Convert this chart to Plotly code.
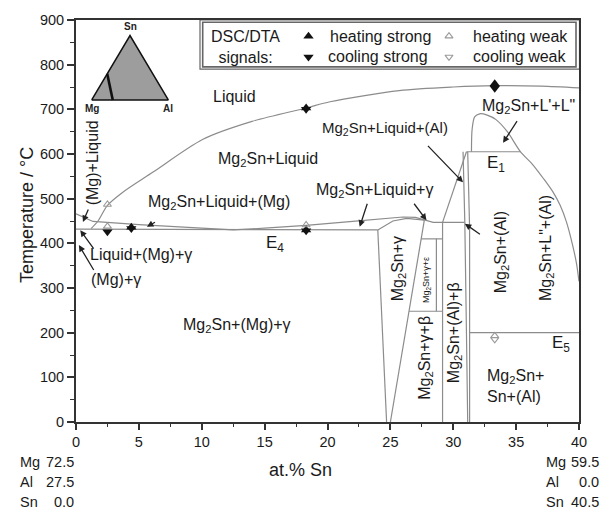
import math
import numpy as np
import plotly.graph_objects as go

# ---------------- phase boundaries (x = at.% Sn, T = °C) ----------------
liquidus_x = [1.2, 1.75, 2.5, 3.7, 6.1, 10.1, 14.0, 18.3, 20.2, 25.7, 30.0, 33.3, 37.0, 40.0]
liquidus_T = [433, 450, 485, 514, 559, 633, 673, 703, 717, 742, 750, 753, 752, 748]

valley_x = [0.0, 1.35, 5.0, 9.0, 12.5, 15.0, 18.3, 22.0, 24.0, 26.0, 27.0, 27.7, 28.4, 30.9]
valley_T = [466, 449, 442, 435, 430, 434, 440, 449, 454, 459, 458, 452, 447, 447]

e4_x = [0.0, 24.0]
e4_T = [432, 430]

gamma_top_x = [24.0, 25.2, 26.3, 27.7]
gamma_top_T = [430, 450, 456, 452]

gamma_left_x = [24.0, 24.7]
gamma_left_T = [430, 0]

gamma_right_x = [25.0, 27.7]
gamma_right_T = [0, 452]

beta_left_x = [29.15, 29.15]
beta_left_T = [0, 447]

eps_upper_T = 410
eps_lower_T = 248
eps_inner_x = 28.66

al_liq_x = [29.15, 31.05]
al_liq_T = [447, 605]

al_solvus_x = [30.78, 30.92, 31.05, 31.15]
al_solvus_T = [605, 447, 200, 0]

sn_side_x = [31.15, 31.3, 31.3]
sn_side_T = [605, 433, 0]

e1_x = [31.05, 35.35]
e1_T = [605, 605]

dome_x = [31.45, 31.5, 31.7, 32.1, 32.7, 33.4, 34.3, 35.35, 36.3, 37.2, 37.95, 38.5, 39.0, 39.5, 39.8, 40.0]
dome_T = [605, 655, 683, 690, 687, 677, 650, 605, 577, 544, 514, 485, 448, 395, 355, 315]

e5_x = [31.3, 40.0]
e5_T = [200, 200]

# ---------------- DSC/DTA signals ----------------
heat_strong_x = [4.4, 18.3, 18.3, 33.3]
heat_strong_T = [436, 703, 430, 757]
cool_strong_x = [2.5, 4.4, 18.3, 18.3, 33.3]
cool_strong_T = [426, 433, 700, 428, 747]
heat_weak_x = [2.5, 2.5, 18.3, 33.3]
heat_weak_T = [487, 438, 441, 193]
cool_weak_x = [33.3]
cool_weak_T = [185]

# ---------------- section end compositions (at.%) ----------------
start_comp = {"Mg": 72.5, "Al": 27.5, "Sn": 0.0}
end_comp = {"Mg": 59.5, "Al": 0.0, "Sn": 40.5}

FONT = "Liberation Sans, Arial, sans-serif"
TXT = "#1a1a1a"
BND = dict(color="#8c8c8c", width=1.2)

# plot-area geometry in pixels (used for paper placement of extras)
W, H = 603, 514
ML, MR, MT, MB = 76, 24, 16, 92
PW, PH = W - ML - MR, H - MT - MB


def px2paper(px, py):
    return (px - ML) / PW, (H - MB - py) / PH


fig = go.Figure()


def boundary(x, T, shape="linear"):
    fig.add_trace(go.Scatter(x=x, y=T, mode="lines",
                             line=dict(color=BND["color"], width=BND["width"], shape=shape,
                                       smoothing=0.8),
                             hoverinfo="skip", showlegend=False))


boundary(liquidus_x, liquidus_T, "spline")
boundary(valley_x, valley_T)
boundary(e4_x, e4_T)
boundary(gamma_top_x, gamma_top_T)
boundary(gamma_left_x, gamma_left_T)
boundary(gamma_right_x, gamma_right_T)
boundary(beta_left_x, beta_left_T)

# the epsilon box sits between the gamma phase edge and the beta line
gx_sorted = np.argsort(gamma_right_T)
x_up = float(np.interp(eps_upper_T, np.array(gamma_right_T)[gx_sorted], np.array(gamma_right_x)[gx_sorted]))
x_lo = float(np.interp(eps_lower_T, np.array(gamma_right_T)[gx_sorted], np.array(gamma_right_x)[gx_sorted]))
boundary([x_up, beta_left_x[0]], [eps_upper_T, eps_upper_T])
boundary([x_lo, beta_left_x[0]], [eps_lower_T, eps_lower_T])
boundary([eps_inner_x, eps_inner_x], [eps_upper_T, eps_lower_T])

boundary(al_liq_x, al_liq_T)
boundary(al_solvus_x, al_solvus_T)
boundary(sn_side_x, sn_side_T)
boundary(e1_x, e1_T)
boundary(dome_x, dome_T, "spline")
boundary(e5_x, e5_T)

# signals
fig.add_trace(go.Scatter(x=heat_strong_x, y=heat_strong_T, mode="markers", name="heating strong",
                         marker=dict(symbol="triangle-up", size=9, color="#111111"), showlegend=False))
fig.add_trace(go.Scatter(x=cool_strong_x, y=cool_strong_T, mode="markers", name="cooling strong",
                         marker=dict(symbol="triangle-down", size=9, color="#111111"), showlegend=False))
fig.add_trace(go.Scatter(x=heat_weak_x, y=heat_weak_T, mode="markers", name="heating weak",
                         marker=dict(symbol="triangle-up-open", size=7, color="#9a9a9a",
                                     line=dict(width=1.1)), showlegend=False))
fig.add_trace(go.Scatter(x=cool_weak_x, y=cool_weak_T, mode="markers", name="cooling weak",
                         marker=dict(symbol="triangle-down-open", size=7, color="#9a9a9a",
                                     line=dict(width=1.1)), showlegend=False))

# ---------------- composition triangle inset ----------------
def tern(c):
    tot = c["Mg"] + c["Al"] + c["Sn"]
    al, sn = c["Al"] / tot, c["Sn"] / tot
    return al + sn / 2.0, sn * math.sqrt(3) / 2.0


corners = [{"Mg": 100, "Al": 0, "Sn": 0}, {"Mg": 0, "Al": 100, "Sn": 0},
           {"Mg": 0, "Al": 0, "Sn": 100}, {"Mg": 100, "Al": 0, "Sn": 0}]
cx, cy = zip(*[tern(c) for c in corners])
fig.add_trace(go.Scatter(x=cx, y=cy, xaxis="x2", yaxis="y2", mode="lines", fill="toself",
                         fillcolor="#9d9d9d", line=dict(color="#111", width=1.5),
                         hoverinfo="skip", showlegend=False))
ix, iy = zip(tern(start_comp), tern(end_comp))
fig.add_trace(go.Scatter(x=ix, y=iy, xaxis="x2", yaxis="y2", mode="lines",
                         line=dict(color="#111", width=2.6), hoverinfo="skip", showlegend=False))

# ---------------- key box markers ----------------
key_up = px2paper(308.5, 32.3)
key_dn = px2paper(308.5, 53.3)
key_upw = px2paper(449, 32.3)
key_dnw = px2paper(449, 53.3)
fig.add_trace(go.Scatter(x=[key_up[0]], y=[key_up[1]], xaxis="x3", yaxis="y3", mode="markers",
                         marker=dict(symbol="triangle-up", size=9, color="#111"), showlegend=False))
fig.add_trace(go.Scatter(x=[key_dn[0]], y=[key_dn[1]], xaxis="x3", yaxis="y3", mode="markers",
                         marker=dict(symbol="triangle-down", size=9, color="#111"), showlegend=False))
fig.add_trace(go.Scatter(x=[key_upw[0]], y=[key_upw[1]], xaxis="x3", yaxis="y3", mode="markers",
                         marker=dict(symbol="triangle-up-open", size=7, color="#9a9a9a",
                                     line=dict(width=1.1)), showlegend=False))
fig.add_trace(go.Scatter(x=[key_dnw[0]], y=[key_dnw[1]], xaxis="x3", yaxis="y3", mode="markers",
                         marker=dict(symbol="triangle-down-open", size=7, color="#9a9a9a",
                                     line=dict(width=1.1)), showlegend=False))

ann = []


def label(x, y, text, size=16, angle=0, **kw):
    d = dict(x=x, y=y, xref="x", yref="y", text=text, showarrow=False, textangle=angle,
             xanchor="center", yanchor="middle",
             font=dict(family=FONT, size=size, color=TXT))
    d.update(kw)
    ann.append(d)


M2 = "Mg<sub>2</sub>Sn"
label(12.6, 729, "Liquid")
label(15.3, 588, M2 + "+Liquid")
label(11.4, 492, M2 + "+Liquid+(Mg)")
label(1.34, 581, "(Mg)+Liquid", angle=-90)
label(5.2, 374, "Liquid+(Mg)+γ")
label(3.2, 319, "(Mg)+γ")
label(12.8, 215, M2 + "+(Mg)+γ")
label(15.8, 399, "E<sub>4</sub>", size=17)
label(23.75, 518, M2 + "+Liquid+γ")
label(24.55, 658, M2 + "+Liquid+(Al)", size=15)
label(35.95, 707, M2 + "+L'+L\"")
label(33.4, 577, "E<sub>1</sub>", size=17)
label(25.6, 344, M2 + "+γ", angle=-90)
label(27.87, 319, M2 + "+γ+ε", size=9, angle=-90)
label(27.73, 143, M2 + "+γ+β", angle=-90)
label(30.1, 200, M2 + "+(Al)+β", angle=-90)
label(33.8, 380, M2 + "+(Al)", angle=-90)
label(37.4, 390, M2 + "+L\"+(Al)", angle=-90)
label(38.6, 174, "E<sub>5</sub>", size=17)
label(32.5, 80, M2 + "+<br>Sn+(Al)", xanchor="left", align="left")

# pointer arrows: (tail x, tail T, head x, head T)
arrows = [
    (1.03, 479, 0.55, 448),
    (6.4, 449, 5.64, 437),
    (1.49, 385, 0.34, 429.5),
    (1.48, 337, 0.23, 396),
    (23.2, 492, 22.56, 437),
    (26.8, 492, 27.87, 451.7),
    (27.87, 621.5, 30.78, 536.6),
    (35.15, 677, 33.96, 625),
    (32.24, 418, 30.92, 444),
]
for tx, tT, hx, hT in arrows:
    ann.append(dict(x=hx, y=hT, ax=tx, ay=tT, xref="x", yref="y", axref="x", ayref="y",
                    text="", showarrow=True, arrowhead=2, arrowsize=1, arrowwidth=1.3,
                    arrowcolor="#222"))

# inset vertex labels
for c, name, yanc, dy in [(corners[2], "Sn", "bottom", 0.02), (corners[0], "Mg", "top", -0.02),
                          (corners[1], "Al", "top", -0.02)]:
    vx, vy = tern(c)
    ann.append(dict(x=vx, y=vy + dy, xref="x2", yref="y2", text="<b>%s</b>" % name,
                    showarrow=False, xanchor="center", yanchor=yanc,
                    font=dict(family=FONT, size=10, color="#222")))

# key box text
def ptext(px, py, text, xanchor="left", size=16, **kw):
    x, y = px2paper(px, py)
    d = dict(x=x, y=y, xref="paper", yref="paper", text=text, showarrow=False,
             xanchor=xanchor, yanchor="middle", font=dict(family=FONT, size=size, color=TXT))
    d.update(kw)
    ann.append(d)


ptext(245, 43, "DSC/DTA<br>signals:", xanchor="center", align="center")
ptext(328, 32.3, "heating strong")
ptext(326, 53.3, "cooling strong")
ptext(471, 32.3, "heating weak")
ptext(471, 53.3, "cooling weak")

# axis titles and end compositions
ptext(300, 470, "at.% Sn", xanchor="center", size=18)
ptext(27, 213, "Temperature / °C", xanchor="center", size=18, textangle=-90)

rows_py = [462, 483, 503]
for i, el in enumerate(["Mg", "Al", "Sn"]):
    ptext(18, rows_py[i], el, size=14.5)
    ptext(76, rows_py[i], "%.1f" % start_comp[el], xanchor="right", size=14.5)
    ptext(544, rows_py[i], el, size=14.5)
    ptext(601, rows_py[i], "%.1f" % end_comp[el], xanchor="right", size=14.5)

# key frame (double border)
o0 = px2paper(200, 65.7)
o1 = px2paper(579.5, 16)
i0 = px2paper(202.7, 63.3)
i1 = px2paper(576, 18.3)
shapes = [
    dict(type="rect", xref="paper", yref="paper", x0=o0[0], y0=o0[1], x1=o1[0], y1=o1[1],
         line=dict(color="#666", width=1.2), fillcolor="white", layer="below"),
    dict(type="rect", xref="paper", yref="paper", x0=i0[0], y0=i0[1], x1=i1[0], y1=i1[1],
         line=dict(color="#666", width=1.6), fillcolor="rgba(0,0,0,0)", layer="below"),
]

# inset axes domain from pixel box of the triangle
tri_l, tri_r, tri_b, tri_t = 91.7, 168.3, 96.7, 31.7
ux = (tri_r - tri_l)
uy = (tri_b - tri_t) / (math.sqrt(3) / 2)
pad = 0.05
x2a = px2paper(tri_l - pad * ux, 0)[0]
x2b = px2paper(tri_r + pad * ux, 0)[0]
y2a = px2paper(0, tri_b + pad * uy)[1]
y2b = px2paper(0, tri_t - pad * uy)[1]

axis_line = dict(showline=True, linecolor="#333", linewidth=1.8, mirror=True, showgrid=False,
                 zeroline=False, ticks="outside", tickwidth=1.5, tickcolor="#333",
                 tickfont=dict(family=FONT, size=14.5, color=TXT))

fig.update_layout(
    width=W, height=H,
    margin=dict(l=ML, r=MR, t=MT, b=MB),
    paper_bgcolor="white", plot_bgcolor="white",
    showlegend=False,
    xaxis=dict(range=[0, 40], dtick=5, tick0=0, ticklen=6,
               minor=dict(dtick=2.5, ticklen=3.5, ticks="outside", tickwidth=1.3, tickcolor="#333"),
               **axis_line),
    yaxis=dict(range=[0, 900], dtick=100, tick0=0, ticklen=7,
               minor=dict(dtick=50, ticklen=4, ticks="outside", tickwidth=1.3, tickcolor="#333"),
               **axis_line),
    xaxis2=dict(domain=[x2a, x2b], range=[-pad, 1 + pad], anchor="y2", visible=False),
    yaxis2=dict(domain=[y2a, y2b], range=[-pad, math.sqrt(3) / 2 + pad], anchor="x2", visible=False),
    xaxis3=dict(overlaying="x", range=[0, 1], visible=False),
    yaxis3=dict(overlaying="y", range=[0, 1], visible=False),
    annotations=ann,
    shapes=shapes,
)

fig.write_html("out.html")
